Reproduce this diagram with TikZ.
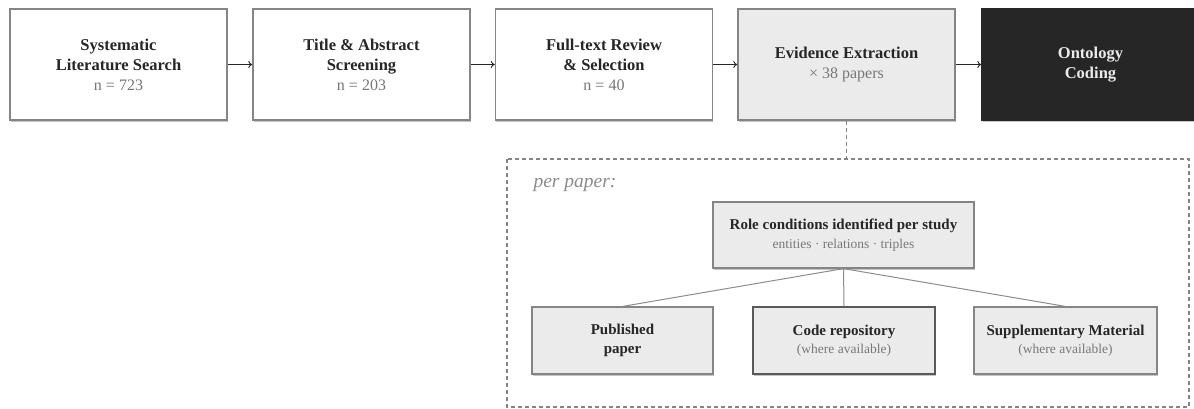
\documentclass[tikz,border=0pt]{standalone}
\usepackage{fontspec}
\setmainfont{Liberation Serif}
\usetikzlibrary{arrows.meta,shadows}

\definecolor{boxline}{HTML}{858585}
\definecolor{boxfill}{HTML}{EBEBEB}
\definecolor{darkfill}{HTML}{262626}
\definecolor{titletext}{HTML}{262626}
\definecolor{subtext}{HTML}{777777}
\definecolor{linkline}{HTML}{8C8C8C}

\tikzset{
  stagebox/.style={draw=boxline, line width=1.4pt, fill=white,
    minimum width=217pt, minimum height=111pt, inner sep=0pt,
    align=center, text=titletext,
    font=\fontsize{16.5}{20}\selectfont\bfseries,
    drop shadow={shadow xshift=0.8pt, shadow yshift=-2pt, fill=black!45, opacity=0.5}},
  greybox/.style={stagebox, fill=boxfill},
  darkbox/.style={stagebox, draw=darkfill, fill=darkfill, text=white!92!black},
  sourcebox/.style={draw=boxline, line width=1.2pt, fill=boxfill,
    minimum height=67pt, inner sep=0pt, align=center, text=titletext,
    font=\fontsize{15}{18.5}\selectfont\bfseries,
    drop shadow={shadow xshift=0.8pt, shadow yshift=-2pt, fill=black!45, opacity=0.5}},
  flowarrow/.style={draw=titletext, line width=0.9pt, -{To[length=4pt,width=7pt]}},
  treeline/.style={draw=linkline, line width=1pt}
}

\newcommand{\subline}[1]{{\fontsize{16}{20}\selectfont\mdseries\color{subtext}#1}}
\newcommand{\smallsubline}[1]{{\fontsize{13.5}{17}\selectfont\mdseries\color{subtext}#1}}

\begin{document}
\begin{tikzpicture}[x=1pt, y=-1pt]
  \useasboundingbox (0,0) rectangle (1194,408);
  \clip (0,0) rectangle (1194,408);

  % pipeline stages
  \node[stagebox] (search) at (118.5,64.5)
    {Systematic\\Literature Search\\\subline{n = 723}};
  \node[stagebox] (screen) at (361.5,64.5)
    {Title \& Abstract\\Screening\\\subline{n = 203}};
  \node[stagebox] (full) at (604,64.5)
    {Full-text Review\\\& Selection\\\subline{n = 40}};
  \node[greybox] (extract) at (846.5,64.5)
    {Evidence Extraction\\\subline{× 38 papers}};
  \node[darkbox] (coding) at (1090.5,64.5)
    {Ontology\\Coding};

  \draw[flowarrow] (search) -- (screen);
  \draw[flowarrow] (screen) -- (full);
  \draw[flowarrow] (full) -- (extract);
  \draw[flowarrow] (extract) -- (coding);

  % per-paper detail panel
  \coordinate (paneltop) at (846.5,159);
  \draw[boxline, line width=1.2pt, dash pattern=on 4pt off 3pt]
    (507,159) rectangle (1189,407);
  \draw[boxline, line width=1pt, dash pattern=on 4pt off 3pt]
    (extract.south) -- (paneltop);

  \node[anchor=west, text=subtext!85!white,
        font=\fontsize{19.5}{22}\selectfont\itshape] (perpaper) at (530,185) {per paper:};

  \node[sourcebox, minimum width=261pt, minimum height=66pt] (role) at (843.5,235)
    {Role conditions identified per study\\\smallsubline{entities · relations · triples}};

  \node[sourcebox, minimum width=181pt] (paper) at (622.5,340.5)
    {Published\\paper};
  \node[sourcebox, minimum width=182pt, draw=black!65] (code) at (844,340.5)
    {Code repository\\\smallsubline{(where available)}};
  \node[sourcebox, minimum width=183pt] (supp) at (1065.5,340.5)
    {Supplementary Material\\\smallsubline{(where available)}};

  \draw[treeline] (role.south) -- (paper.north);
  \draw[treeline] (role.south) -- (code.north);
  \draw[treeline] (role.south) -- (supp.north);
\end{tikzpicture}
\end{document}
